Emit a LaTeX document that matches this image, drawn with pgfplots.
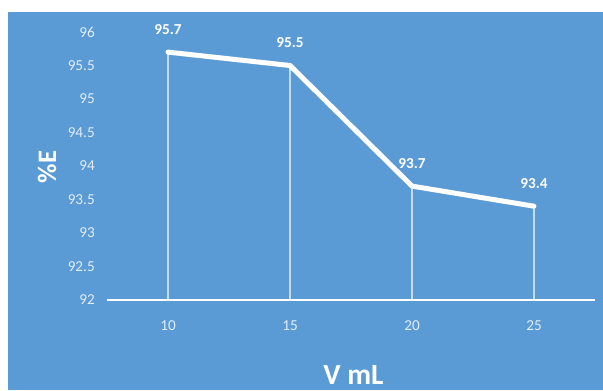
\documentclass[border=0pt]{standalone}
\usepackage{pgfplots}
\pgfplotsset{compat=1.18}
\usepackage{fontspec}
\setmainfont{Carlito}
\definecolor{bg}{RGB}{91,155,213}
\definecolor{ticktxt}{RGB}{225,237,248}
\begin{document}
\begin{tikzpicture}
\useasboundingbox (0,0) rectangle (452.25pt,292.5pt);
\fill[white] (0,0) rectangle (452.25pt,292.5pt);
\fill[bg] (6pt,0) rectangle (452.25pt,283.5pt);
\begin{axis}[
  at={(80.25pt,67.5pt)}, anchor=south west,
  scale only axis, width=366pt, height=201pt,
  xmin=7.5, xmax=27.5, ymin=92, ymax=96,
  xtick={10,15,20,25}, ytick={92,92.5,93,93.5,94,94.5,95,95.5,96},
  /pgf/number format/assume math mode=true,
  axis x line*=bottom, axis y line*=left,
  x axis line style={white, line width=1.3pt, -},
  y axis line style={draw=none},
  major tick length=0pt,
  tick label style={font=\fontsize{11.4}{13}\selectfont, text=ticktxt, inner sep=0pt},
  xticklabel style={anchor=north, yshift=-15pt},
  yticklabel style={anchor=east, xshift=-9pt},
  xlabel={V mL}, ylabel={\%E},
  xlabel style={at={(axis description cs:0.505,-0.278)}, anchor=center, inner sep=0pt,
    font=\fontsize{22}{24}\selectfont\bfseries, text=white},
  ylabel style={at={(axis description cs:-0.123,0.496)}, rotate=0, anchor=center, inner sep=0pt,
    font=\fontsize{20}{22}\selectfont\bfseries, text=white},
  clip=false,
]
\addplot[ycomb, white, opacity=0.65, line width=0.8pt] coordinates {(10,95.7) (15,95.5) (20,93.7) (25,93.4)};
\addplot[white, line width=3.75pt, line cap=round, line join=round,
  nodes near coords,
  every node near coord/.append style={font=\fontsize{11.4}{13}\selectfont\bfseries,
    text=white, anchor=south, inner sep=0pt, yshift=11.5pt}]
  coordinates {(10,95.7) (15,95.5) (20,93.7) (25,93.4)};
\end{axis}
\end{tikzpicture}
\end{document}
